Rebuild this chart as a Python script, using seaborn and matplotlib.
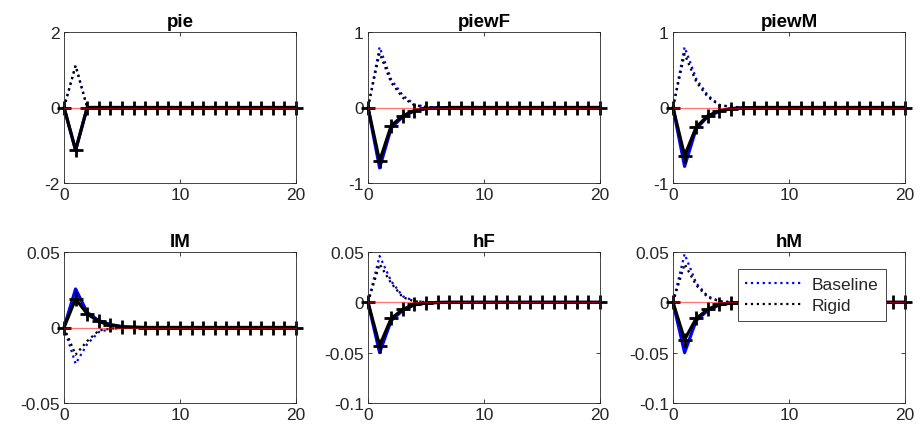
import matplotlib
matplotlib.use("Agg")
import matplotlib.pyplot as plt
import seaborn as sns
import pandas as pd
import numpy as np

# ---------------- data ----------------
periods = list(range(21))

titles = ["pie", "piewF", "piewM", "IM", "hF", "hM"]

pie_base = [0, -1.13, 0, 0, 0, 0, 0, 0, 0, 0, 0, 0, 0, 0, 0, 0, 0, 0, 0, 0, 0]
pie_rigid = [0, -1.13, 0, 0, 0, 0, 0, 0, 0, 0, 0, 0, 0, 0, 0, 0, 0, 0, 0, 0, 0]
pie_base_dot = [0, 1.11, 0, 0, 0, 0, 0, 0, 0, 0, 0, 0, 0, 0, 0, 0, 0, 0, 0, 0, 0]
pie_rigid_dot = [0, 1.11, 0, 0, 0, 0, 0, 0, 0, 0, 0, 0, 0, 0, 0, 0, 0, 0, 0, 0, 0]

piewF_base = [0, -0.80, -0.27, -0.12, -0.045, -0.015, -0.005, 0, 0, 0, 0, 0, 0, 0, 0, 0, 0, 0, 0, 0, 0]
piewF_rigid = [0, -0.71, -0.24, -0.11, -0.04, -0.012, -0.004, 0, 0, 0, 0, 0, 0, 0, 0, 0, 0, 0, 0, 0, 0]
piewF_base_dot = [0, 0.80, 0.37, 0.16, 0.04, 0.01, 0.003, 0, 0, 0, 0, 0, 0, 0, 0, 0, 0, 0, 0, 0, 0]
piewF_rigid_dot = [0, 0.72, 0.33, 0.13, 0.03, 0.008, 0.002, 0, 0, 0, 0, 0, 0, 0, 0, 0, 0, 0, 0, 0, 0]

piewM_base = [0, -0.78, -0.28, -0.12, -0.05, -0.016, -0.005, 0, 0, 0, 0, 0, 0, 0, 0, 0, 0, 0, 0, 0, 0]
piewM_rigid = [0, -0.64, -0.26, -0.11, -0.045, -0.015, -0.004, 0, 0, 0, 0, 0, 0, 0, 0, 0, 0, 0, 0, 0, 0]
piewM_base_dot = [0, 0.80, 0.38, 0.16, 0.035, 0.01, 0.003, 0, 0, 0, 0, 0, 0, 0, 0, 0, 0, 0, 0, 0, 0]
piewM_rigid_dot = [0, 0.71, 0.34, 0.14, 0.03, 0.008, 0.002, 0, 0, 0, 0, 0, 0, 0, 0, 0, 0, 0, 0, 0, 0]

IM_base = [0, 0.0255, 0.010, 0.0045, 0.002, 0.0006, 0.0002, 0, 0, 0, 0, 0, 0, 0, 0, 0, 0, 0, 0, 0, 0]
IM_rigid = [0, 0.019, 0.009, 0.004, 0.0015, 0.0005, 0.0001, 0, 0, 0, 0, 0, 0, 0, 0, 0, 0, 0, 0, 0, 0]
IM_base_dot = [0, -0.024, -0.011, -0.003, -0.001, -0.0003, 0, 0, 0, 0, 0, 0, 0, 0, 0, 0, 0, 0, 0, 0, 0]
IM_rigid_dot = [0, -0.018, -0.009, -0.002, -0.0008, -0.0002, 0, 0, 0, 0, 0, 0, 0, 0, 0, 0, 0, 0, 0, 0, 0]

hF_base = [0, -0.050, -0.018, -0.008, -0.0025, -0.0008, -0.0002, 0, 0, 0, 0, 0, 0, 0, 0, 0, 0, 0, 0, 0, 0]
hF_rigid = [0, -0.043, -0.016, -0.007, -0.002, -0.0006, -0.0001, 0, 0, 0, 0, 0, 0, 0, 0, 0, 0, 0, 0, 0, 0]
hF_base_dot = [0, 0.046, 0.021, 0.006, 0.0012, 0.0003, 0, 0, 0, 0, 0, 0, 0, 0, 0, 0, 0, 0, 0, 0, 0]
hF_rigid_dot = [0, 0.038, 0.019, 0.005, 0.001, 0.0002, 0, 0, 0, 0, 0, 0, 0, 0, 0, 0, 0, 0, 0, 0, 0]

hM_base = [0, -0.050, -0.018, -0.008, -0.0025, -0.0008, -0.0002, 0, 0, 0, 0, 0, 0, 0, 0, 0, 0, 0, 0, 0, 0]
hM_rigid = [0, -0.037, -0.016, -0.007, -0.002, -0.0006, -0.0001, 0, 0, 0, 0, 0, 0, 0, 0, 0, 0, 0, 0, 0, 0]
hM_base_dot = [0, 0.048, 0.019, 0.006, 0.0012, 0.0003, 0, 0, 0, 0, 0, 0, 0, 0, 0, 0, 0, 0, 0, 0, 0]
hM_rigid_dot = [0, 0.038, 0.017, 0.005, 0.001, 0.0002, 0, 0, 0, 0, 0, 0, 0, 0, 0, 0, 0, 0, 0, 0, 0]

zero_line = [0] * 21

ylims = [(-2, 2), (-1, 1), (-1, 1), (-0.05, 0.05), (-0.1, 0.05), (-0.1, 0.05)]
yticks = [[-2, 0, 2], [-1, 0, 1], [-1, 0, 1], [-0.05, 0, 0.05],
          [-0.1, -0.05, 0, 0.05], [-0.1, -0.05, 0, 0.05]]
yticklabels = [["-2", "0", "2"], ["-1", "0", "1"], ["-1", "0", "1"],
               ["-0.05", "0", "0.05"], ["-0.1", "-0.05", "0", "0.05"],
               ["-0.1", "-0.05", "0", "0.05"]]
xticks = [0, 10, 20]
xticklabels = ["0", "10", "20"]

series = [
    (pie_base, pie_rigid, pie_base_dot, pie_rigid_dot),
    (piewF_base, piewF_rigid, piewF_base_dot, piewF_rigid_dot),
    (piewM_base, piewM_rigid, piewM_base_dot, piewM_rigid_dot),
    (IM_base, IM_rigid, IM_base_dot, IM_rigid_dot),
    (hF_base, hF_rigid, hF_base_dot, hF_rigid_dot),
    (hM_base, hM_rigid, hM_base_dot, hM_rigid_dot),
]

# ---------------- style ----------------
sns.set_style("ticks")
plt.rcParams["font.family"] = ["Liberation Sans", "DejaVu Sans"]
plt.rcParams["axes.unicode_minus"] = False

axcol = "#262626"

fig = plt.figure(figsize=(9.21, 4.35), dpi=100)
W, H = 921.0, 435.0
lefts = [64, 368, 673]
tops = [33, 253]
aw, ah = 232, 151

for i in range(6):
    r, c = divmod(i, 3)
    l = lefts[c]
    t = tops[r]
    ax = fig.add_axes([l / W, 1 - (t + ah) / H, aw / W, ah / H])
    base, rigid, base_dot, rigid_dot = series[i]
    df = pd.DataFrame({"t": periods, "base": base, "rigid": rigid,
                       "base_dot": base_dot, "rigid_dot": rigid_dot,
                       "zero": zero_line})
    sns.lineplot(data=df, x="t", y="base_dot", ax=ax, color="blue",
                 linestyle=":", linewidth=1.6, label="Baseline")
    sns.lineplot(data=df, x="t", y="rigid_dot", ax=ax, color="black",
                 linestyle=":", linewidth=1.6, label="Rigid")
    sns.lineplot(data=df, x="t", y="base", ax=ax, color="blue",
                 linewidth=2.3, legend=False)
    sns.lineplot(data=df, x="t", y="rigid", ax=ax, color="black",
                 linewidth=2.3, marker="+", markersize=10,
                 markeredgewidth=2.0, markeredgecolor="black",
                 legend=False, clip_on=False)
    sns.lineplot(data=df, x="t", y="zero", ax=ax, color="red", alpha=0.55,
                 linewidth=0.9, legend=False)

    ax.set_xlim(0, 20)
    ax.set_ylim(*ylims[i])
    ax.set_xticks(xticks)
    ax.set_xticklabels(xticklabels)
    ax.set_yticks(yticks[i])
    ax.set_yticklabels(yticklabels[i])
    ax.set_xlabel("")
    ax.set_ylabel("")
    ax.set_title(titles[i], fontsize=13.5, fontweight="bold", pad=4, color="black")
    ax.tick_params(direction="in", top=True, right=True, length=3, width=0.6,
                   colors=axcol, labelsize=12.5, pad=3)
    for sp in ax.spines.values():
        sp.set_linewidth(0.6)
        sp.set_color(axcol)
    ax.grid(False)

    if i == 5:
        leg = ax.legend(loc="upper right", bbox_to_anchor=(0.918, 0.885),
                        borderaxespad=0, fontsize=12.5, handlelength=3.2,
                        frameon=True, fancybox=False, framealpha=1,
                        edgecolor=axcol, borderpad=0.45, labelspacing=0.3,
                        handletextpad=0.6)
        leg.get_frame().set_linewidth(0.6)
    else:
        lg = ax.get_legend()
        if lg is not None:
            lg.remove()

fig.savefig("out.png", dpi=100)
